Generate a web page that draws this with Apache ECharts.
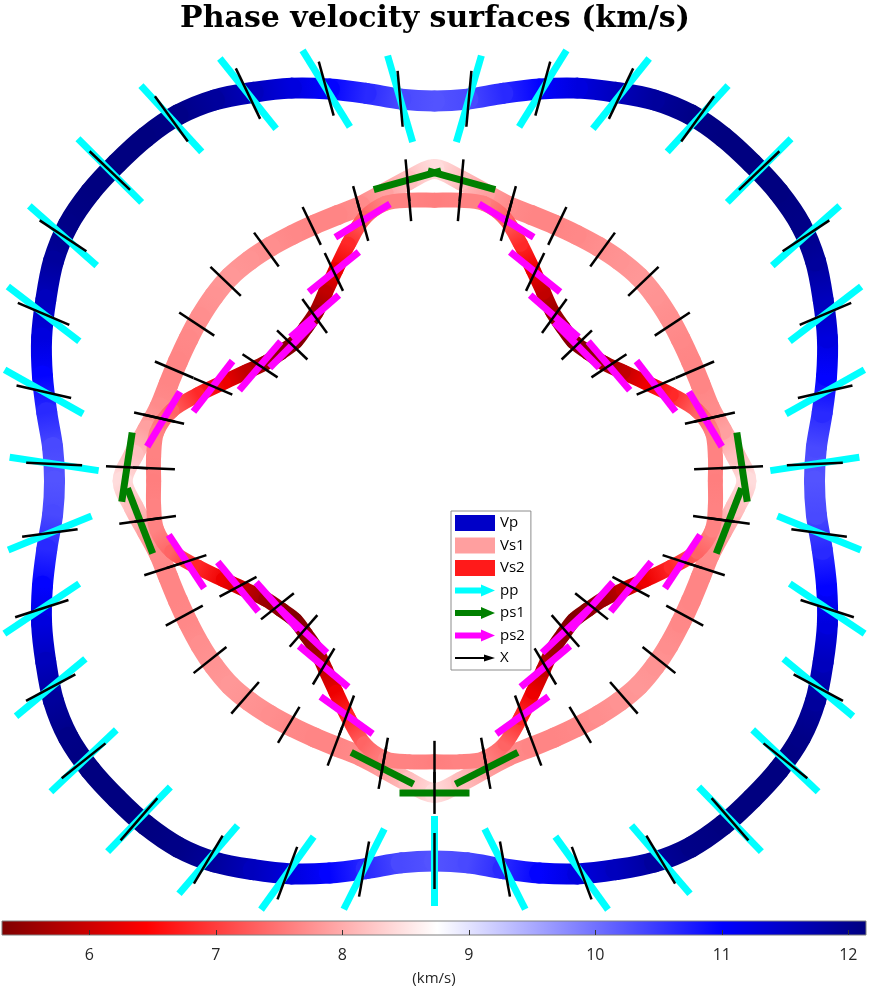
<!DOCTYPE html>
<html>
<head>
<meta charset="utf-8">
<title>Phase velocity surfaces</title>
<script src="https://cdn.jsdelivr.net/npm/echarts@6/dist/echarts.min.js"></script>
<style>
html, body { margin: 0; padding: 0; background: #fff; }
#main { width: 870px; height: 989px; }
</style>
</head>
<body>
<div id="main"></div>
<script>
// propagation angle of the surface samples (deg, counter-clockwise from +x)
var surfAngles = [0,5,10,15,20,25,30,35,40,45,50,55,60,65,70,75,80,85,
  90,95,100,105,110,115,120,125,130,135,140,145,150,155,160,165,170,175,
  180,185,190,195,200,205,210,215,220,225,230,235,240,245,250,255,260,265,
  270,275,280,285,290,295,300,305,310,315,320,325,330,335,340,345,350,355];

// phase velocities (km/s) along those angles
var vpSurf = [10.27,10.36,10.64,10.97,11.30,11.59,11.89,12.08,12.14,12.14,12.14,12.08,11.89,11.59,11.30,10.97,10.64,10.36,
  10.27,10.36,10.64,10.97,11.30,11.59,11.89,12.08,12.14,12.14,12.14,12.08,11.89,11.59,11.30,10.97,10.64,10.36,
  10.27,10.36,10.64,10.97,11.30,11.59,11.89,12.08,12.14,12.14,12.14,12.08,11.89,11.59,11.30,10.97,10.64,10.36,
  10.27,10.36,10.64,10.97,11.30,11.59,11.89,12.08,12.14,12.14,12.14,12.08,11.89,11.59,11.30,10.97,10.64,10.36];
var vs1Surf = [8.43,8.16,7.89,7.70,7.65,7.65,7.68,7.73,7.78,7.81,7.78,7.73,7.68,7.65,7.65,7.70,7.89,8.16,
  8.43,8.16,7.89,7.70,7.65,7.65,7.68,7.73,7.78,7.81,7.78,7.73,7.68,7.65,7.65,7.70,7.89,8.16,
  8.43,8.16,7.89,7.70,7.65,7.65,7.68,7.73,7.78,7.81,7.78,7.73,7.68,7.65,7.65,7.70,7.89,8.16,
  8.43,8.16,7.89,7.70,7.65,7.65,7.68,7.73,7.78,7.81,7.78,7.73,7.68,7.65,7.65,7.70,7.89,8.16];
var vs2Surf = [7.59,7.62,7.62,7.35,6.81,6.30,5.89,5.57,5.41,5.32,5.41,5.57,5.89,6.30,6.81,7.35,7.62,7.62,
  7.59,7.62,7.62,7.35,6.81,6.30,5.89,5.57,5.41,5.32,5.41,5.57,5.89,6.30,6.81,7.35,7.62,7.62,
  7.59,7.62,7.62,7.35,6.81,6.30,5.89,5.57,5.41,5.32,5.41,5.57,5.89,6.30,6.81,7.35,7.62,7.62,
  7.59,7.62,7.62,7.35,6.81,6.30,5.89,5.57,5.41,5.32,5.41,5.57,5.89,6.30,6.81,7.35,7.62,7.62];

// directions where polarisation / propagation bars are drawn
var barDirs = [2.57,12.86,23.14,33.43,43.71,54.00,64.29,74.57,84.86,95.14,105.43,115.71,126.00,136.29,146.57,156.86,167.14,177.43,
  187.71,198.00,208.29,218.57,228.86,239.14,249.43,259.71,270.00,280.29,290.57,300.86,311.14,321.43,331.71,342.00,352.29];
var vpAtDir = [10.29,10.83,11.49,12.03,12.14,12.10,11.62,11.00,10.37,10.37,11.00,11.62,12.10,12.14,12.03,11.49,10.83,10.29,
  10.49,11.16,11.78,12.13,12.14,11.92,11.32,10.66,10.27,10.66,11.32,11.92,12.14,12.13,11.78,11.16,10.49];
var vs1AtDir = [8.32,7.76,7.65,7.70,7.81,7.73,7.65,7.70,8.16,8.16,7.70,7.65,7.73,7.81,7.70,7.65,7.76,8.32,
  8.03,7.68,7.68,7.76,7.78,7.68,7.65,7.89,8.43,7.89,7.65,7.68,7.78,7.76,7.68,7.68,8.03];
var vs2AtDir = [7.59,7.51,6.51,5.65,5.32,5.51,6.27,7.30,7.62,7.62,7.30,6.27,5.51,5.32,5.65,6.51,7.51,7.59,
  7.62,7.05,6.03,5.43,5.38,5.84,6.76,7.62,7.59,7.62,6.76,5.84,5.38,5.43,6.03,7.05,7.62];
// polarisation direction relative to the propagation direction (deg), null = out of plane
var ppDev = [6,16.5,14.3,8.1,1.2,-6.5,-13,-16.3,-11,11,16.3,13,6.5,-1.2,-8.1,-14.3,-16.5,-6,
  14.5,15.8,11.3,4.8,-3,-9.7,-15.2,-16.5,0,16.5,15.2,9.7,3,-4.8,-11.3,-15.8,-14.5];
var ps1Dev = [-84,null,null,null,null,null,null,null,79.6,-79.6,null,null,null,null,null,null,null,84,
  -76.5,null,null,null,null,null,null,73.3,90,-73.3,null,null,null,null,null,null,76.5];
var ps2Dev = [null,-72,-75.5,-83,-89,85,77,74,null,null,-74,-77,-85,89,83,75.5,72,null,
  null,-74.5,-79,-87,88,81,75,null,null,null,-75,-81,-88,87,79,74.5,null];

// colour scale
var cbarMin = 5.31, cbarMax = 12.14;
var cbarTicks = [6, 7, 8, 9, 10, 11, 12];
var cmapVals = [5.31, 6.45, 8.75, 11.0, 12.14];
var cmapCols = ['#800000', '#ff0000', '#ffffff', '#0000ff', '#000080'];

function hexRgb(h) {
  return [parseInt(h.substr(1, 2), 16), parseInt(h.substr(3, 2), 16), parseInt(h.substr(5, 2), 16)];
}
function cmap(v) {
  if (v <= cmapVals[0]) return cmapCols[0];
  for (var i = 1; i < cmapVals.length; i++) {
    if (v <= cmapVals[i]) {
      var t = (v - cmapVals[i - 1]) / (cmapVals[i] - cmapVals[i - 1]);
      var a = hexRgb(cmapCols[i - 1]), b = hexRgb(cmapCols[i]);
      return 'rgb(' + Math.round(a[0] + (b[0] - a[0]) * t) + ',' +
        Math.round(a[1] + (b[1] - a[1]) * t) + ',' + Math.round(a[2] + (b[2] - a[2]) * t) + ')';
    }
  }
  return cmapCols[cmapCols.length - 1];
}

// each item is one piece of the closed surface: previous, start, end and next sample
function surfSeries(name, vals, width, legendColor, z) {
  var n = surfAngles.length, data = [];
  for (var i = 0; i < n; i++) {
    var h = (i + n - 1) % n, j = (i + 1) % n, k = (i + 2) % n;
    data.push([surfAngles[h], vals[h], surfAngles[i], vals[i], surfAngles[j], vals[j], surfAngles[k], vals[k]]);
  }
  return {
    type: 'custom', name: name, coordinateSystem: 'polar', z: z, silent: true,
    itemStyle: { color: legendColor },
    encode: { angle: 2, radius: 3 },
    data: data,
    renderItem: function (params, api) {
      var q = api.coord([api.value(1), api.value(0)]);
      var p0 = api.coord([api.value(3), api.value(2)]);
      var p1 = api.coord([api.value(5), api.value(4)]);
      var r = api.coord([api.value(7), api.value(6)]);
      // Catmull-Rom style smoothing, like a smoothed line series
      return {
        type: 'bezierCurve',
        shape: {
          x1: p0[0], y1: p0[1], x2: p1[0], y2: p1[1],
          cpx1: p0[0] + (p1[0] - q[0]) / 6, cpy1: p0[1] + (p1[1] - q[1]) / 6,
          cpx2: p1[0] - (r[0] - p0[0]) / 6, cpy2: p1[1] - (r[1] - p0[1]) / 6
        },
        style: {
          fill: null, lineWidth: width, lineCap: 'round',
          stroke: new echarts.graphic.LinearGradient(p0[0], p0[1], p1[0], p1[1],
            [{ offset: 0, color: cmap(api.value(3)) }, { offset: 1, color: cmap(api.value(5)) }], true)
        }
      };
    }
  };
}

function barSeries(name, color, width, len, vals, devs, z) {
  var data = [];
  for (var i = 0; i < barDirs.length; i++) {
    if (devs[i] === null) continue;
    data.push([barDirs[i], vals[i], devs[i]]);
  }
  return {
    type: 'custom', name: name, coordinateSystem: 'polar', z: z, silent: true,
    itemStyle: { color: color },
    encode: { angle: 0, radius: 1 },
    data: data,
    renderItem: function (params, api) {
      var a = api.value(0), v = api.value(1), dev = api.value(2);
      var p = api.coord([v, a]);
      var th = (a + dev) * Math.PI / 180;
      var dx = Math.cos(th) * len / 2, dy = -Math.sin(th) * len / 2;
      return {
        type: 'line',
        shape: { x1: p[0] - dx, y1: p[1] - dy, x2: p[0] + dx, y2: p[1] + dy },
        style: { stroke: color, lineWidth: width, lineCap: 'butt' }
      };
    }
  };
}

// propagation direction bars on all three sheets
var xData = [];
for (var k = 0; k < barDirs.length; k++) {
  xData.push([barDirs[k], vpAtDir[k], 0]);
  xData.push([barDirs[k], vs1AtDir[k], 1]);
  xData.push([barDirs[k], vs2AtDir[k], 2]);
}

var arrowThick = 'path://M0,3L26,3L26,0L40,6L26,12L26,9L0,9Z';
var arrowThin = 'path://M0,2.5L29,2.5L29,0L40,3.5L29,7L29,4.5L0,4.5Z';

var option = {
  animation: false,
  title: {
    text: 'Phase velocity surfaces (km/s)',
    left: 'center', top: -1,
    textStyle: { fontFamily: 'DejaVu Serif', fontWeight: 'bold', fontSize: 30, color: '#000' }
  },
  legend: {
    orient: 'vertical', left: 451, top: 511,
    padding: [4, 6, 4, 4], itemGap: 6.5, itemWidth: 40, itemHeight: 16,
    backgroundColor: '#fff', borderColor: '#8c8c8c', borderWidth: 1,
    selectedMode: false,
    textStyle: { fontFamily: 'Open Sans', fontSize: 15, color: '#000', lineHeight: 16 },
    data: [
      { name: 'Vp', icon: 'rect' },
      { name: 'Vs1', icon: 'rect' },
      { name: 'Vs2', icon: 'rect' },
      { name: 'pp', icon: arrowThick },
      { name: 'ps1', icon: arrowThick },
      { name: 'ps2', icon: arrowThick },
      { name: 'X', icon: arrowThin }
    ]
  },
  polar: { center: [434.5, 481], radius: 481 },
  angleAxis: { type: 'value', min: 0, max: 360, startAngle: 0, clockwise: false, show: false },
  radiusAxis: { type: 'value', min: 0, max: 13, show: false },
  grid: { left: 2, right: 4, top: 921, height: 14 },
  xAxis: {
    type: 'value', min: cbarMin, max: cbarMax, z: 10,
    axisLine: { show: false },
    splitLine: { show: false },
    axisTick: { customValues: cbarTicks, inside: true, length: 5, lineStyle: { color: '#333' } },
    axisLabel: { customValues: cbarTicks, fontFamily: 'Open Sans', fontSize: 16, color: '#262626', margin: 12 },
    name: '(km/s)', nameLocation: 'middle', nameGap: 36,
    nameTextStyle: { fontFamily: 'Open Sans', fontSize: 15, color: '#262626' }
  },
  yAxis: { type: 'value', min: 0, max: 1, show: false },
  series: [
    surfSeries('Vp', vpSurf, 21, '#0000c8', 1),
    surfSeries('Vs1', vs1Surf, 20, '#ff9f9f', 2),
    surfSeries('Vs2', vs2Surf, 15, '#ff1a1a', 3),
    barSeries('pp', '#00ffff', 7, 90, vpAtDir, ppDev, 4),
    barSeries('ps1', '#008000', 7, 70, vs1AtDir, ps1Dev, 4),
    barSeries('ps2', '#ff00ff', 7, 64, vs2AtDir, ps2Dev, 4),
    {
      type: 'custom', name: 'X', coordinateSystem: 'polar', z: 5, silent: true,
      itemStyle: { color: '#000' },
      encode: { angle: 0, radius: 1 },
      data: xData,
      renderItem: function (params, api) {
        var a = api.value(0), v = api.value(1);
        var half = api.value(2) === 0 ? 28 : 21;
        var p = api.coord([v, a]);
        var th = a * Math.PI / 180;
        var dx = Math.cos(th) * half, dy = -Math.sin(th) * half;
        return {
          type: 'line',
          shape: { x1: p[0] - dx, y1: p[1] - dy, x2: p[0] + dx, y2: p[1] + dy },
          style: { stroke: '#000', lineWidth: 2.5 }
        };
      }
    },
    {
      type: 'custom', name: 'colorbar', coordinateSystem: 'cartesian2d', silent: true,
      data: [[cbarMin, cbarMax]],
      renderItem: function (params, api) {
        var p0 = api.coord([api.value(0), 0]);
        var p1 = api.coord([api.value(1), 1]);
        var stops = [];
        for (var i = 0; i < cmapVals.length; i++) {
          stops.push({ offset: (cmapVals[i] - cbarMin) / (cbarMax - cbarMin), color: cmapCols[i] });
        }
        return {
          type: 'rect',
          shape: { x: p0[0], y: p1[1], width: p1[0] - p0[0], height: p0[1] - p1[1] },
          style: {
            fill: new echarts.graphic.LinearGradient(p0[0], 0, p1[0], 0, stops, true),
            stroke: '#7f7f7f', lineWidth: 1
          }
        };
      }
    }
  ]
};

var myChart = echarts.init(document.getElementById('main'));
myChart.setOption(option);
</script>
</body>
</html>
